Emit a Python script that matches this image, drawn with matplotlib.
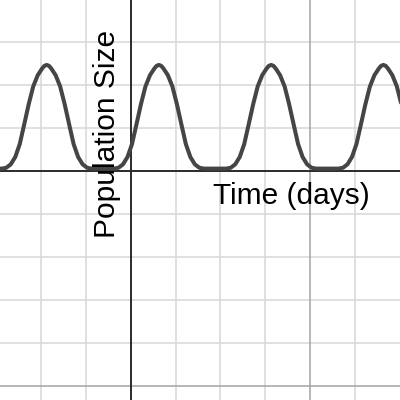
import matplotlib
matplotlib.use("Agg")
import matplotlib.pyplot as plt

# Curve samples (grid units)
curve_x = [-2.91, -2.87, -2.77, -2.67, -2.57, -2.47, -2.37, -2.27, -2.17, -2.07, -1.97, -1.92,
           -1.87, -1.82, -1.77, -1.67, -1.57, -1.47, -1.37, -1.27, -1.17, -1.07, -0.97, -0.87,
           -0.37, -0.27, -0.17, -0.07, 0.03, 0.13, 0.23, 0.33, 0.43, 0.53, 0.58,
           0.63, 0.68, 0.73, 0.83, 0.93, 1.03, 1.13, 1.23, 1.33, 1.43, 1.53, 1.63,
           2.13, 2.23, 2.33, 2.43, 2.53, 2.63, 2.73, 2.83, 2.93, 3.03, 3.08,
           3.13, 3.18, 3.23, 3.33, 3.43, 3.53, 3.63, 3.73, 3.83, 3.93, 4.03, 4.13,
           4.63, 4.73, 4.83, 4.93, 5.03, 5.13, 5.23, 5.33, 5.43, 5.53, 5.58,
           5.63, 5.68, 5.73, 5.83, 5.93, 6.03]
curve_y = [0.05, 0.05, 0.07, 0.15, 0.32, 0.62, 1.08, 1.55, 1.96, 2.22, 2.38, 2.44,
           2.46, 2.44, 2.38, 2.22, 1.96, 1.55, 1.08, 0.62, 0.32, 0.15, 0.07, 0.05,
           0.05, 0.07, 0.15, 0.32, 0.62, 1.08, 1.55, 1.96, 2.22, 2.38, 2.44,
           2.46, 2.44, 2.38, 2.22, 1.96, 1.55, 1.08, 0.62, 0.32, 0.15, 0.07, 0.05,
           0.05, 0.07, 0.15, 0.32, 0.62, 1.08, 1.55, 1.96, 2.22, 2.38, 2.44,
           2.46, 2.44, 2.38, 2.22, 1.96, 1.55, 1.08, 0.62, 0.32, 0.15, 0.07, 0.05,
           0.05, 0.07, 0.15, 0.32, 0.62, 1.08, 1.55, 1.96, 2.22, 2.38, 2.44,
           2.46, 2.44, 2.38, 2.22, 1.96, 1.55]

x_ticks = [-2, -1, 1, 2, 3, 5]
y_ticks = [-4, -3, -2, -1, 1, 2, 3]
major_x = [4]
major_y = [-5]
x_label = "Time (days)"
y_label = "Population Size"

plt.rcParams['font.family'] = ['Liberation Sans', 'DejaVu Sans']

fig = plt.figure(figsize=(4, 4), dpi=100)
ax = fig.add_axes([0, 0, 1, 1])
ax.set_xlim(-2.91, 6.0)
ax.set_ylim(-5.33, 3.97)

for v in x_ticks:
    ax.axvline(v, color='#d9d9d9', lw=1.15, zorder=1)
for v in y_ticks:
    ax.axhline(v, color='#d9d9d9', lw=1.15, zorder=1)
for v in major_x:
    ax.axvline(v, color='#a6a6a6', lw=1.15, zorder=1)
for v in major_y:
    ax.axhline(v, color='#a6a6a6', lw=1.15, zorder=1)

ax.axhline(0, color='#2a2a2a', lw=1.4, zorder=2)
ax.axvline(0, color='#2a2a2a', lw=1.4, zorder=2)

ax.plot(curve_x, curve_y, color='#454545', lw=2.9, solid_capstyle='round',
        solid_joinstyle='round', zorder=3)

for s in ax.spines.values():
    s.set_visible(False)
ax.set_xticks([])
ax.set_yticks([])

fig.text(291.7 / 400, 1 - 196.5 / 400, x_label, fontsize=21.5, ha='center', va='center',
         color='black')
fig.text(107 / 400, 1 - 133.5 / 400, y_label, fontsize=21.5, rotation=90,
         ha='center', va='center', color='black')

fig.savefig("out.png", dpi=100)
